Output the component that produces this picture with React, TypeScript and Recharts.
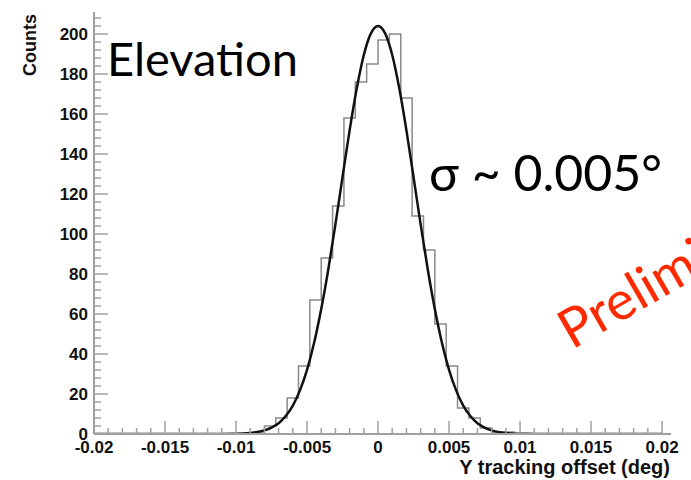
import React from "react";
import { LineChart, Line, XAxis, YAxis } from "recharts";

// histogram: 50 bins of 0.0008 deg starting at -0.02
const binStart = -0.02;
const binWidth = 0.0008;
const histCounts = [
  0, 0, 0, 0, 0, 0, 0, 0, 0, 0, 0, 0, 0, 0,
  1, 4, 8, 18, 34, 67, 88, 114, 158, 176, 185, 197, 200, 168, 109, 92, 55, 34, 13, 8, 3, 1, 1,
  0, 0, 0, 0, 0, 0, 0, 0, 0, 0, 0, 0, 0,
];

// gaussian fit curve
const fitX = [
  -0.02, -0.012, -0.011, -0.01, -0.009, -0.008, -0.0075, -0.007, -0.0065, -0.006, -0.0055, -0.005,
  -0.0045, -0.004, -0.0035, -0.003, -0.0025, -0.002, -0.0015, -0.001, -0.0005, 0, 0.0005, 0.001,
  0.0015, 0.002, 0.0025, 0.003, 0.0035, 0.004, 0.0045, 0.005, 0.0055, 0.006, 0.0065, 0.007,
  0.0075, 0.008, 0.009, 0.01, 0.011, 0.012, 0.02,
];
const fitY = [
  0, 0.02, 0.05, 0.1, 0.5, 1.8, 3.2, 5.4, 9.0, 14.2, 21.8, 32.1,
  45.6, 62.5, 82.4, 104.8, 128.5, 151.8, 172.7, 189.5, 200.3, 204, 200.3, 189.5,
  172.7, 151.8, 128.5, 104.8, 82.4, 62.5, 45.6, 32.1, 21.8, 14.2, 9.0, 5.4,
  3.2, 1.8, 0.5, 0.1, 0.05, 0.02, 0,
];

const xMajor = [-0.02, -0.015, -0.01, -0.005, 0, 0.005, 0.01, 0.015, 0.02];
const yMajor = [0, 20, 40, 60, 80, 100, 120, 140, 160, 180, 200];

const xTicks: number[] = [];
for (let i = -20; i <= 20; i++) xTicks.push(i / 1000);
const yTicks: number[] = [];
for (let v = 0; v <= 208; v += 4) yTicks.push(v);

const histData = histCounts.map((c, i) => ({ x: binStart + i * binWidth, y: c }));
histData.push({ x: binStart + histCounts.length * binWidth, y: histCounts[histCounts.length - 1] });
const fitData = fitX.map((x, i) => ({ x, y: fitY[i] }));

const axisFont = "'Liberation Sans', Arial, sans-serif";
const bigFont = "Lato, 'Open Sans', sans-serif";
const frame = "#a0a0a0";

const fmtX = (v: number) => (Math.abs(v) < 1e-9 ? "0" : String(+v.toFixed(3)));

const XTick = (props: any) => {
  const { x, y, payload } = props;
  const v = payload.value as number;
  const major = xMajor.some((m) => Math.abs(m - v) < 1e-9);
  return (
    <g>
      <line x1={x} x2={x} y1={y} y2={y - (major ? 13 : 6)} stroke={frame} strokeWidth={1.5} />
      {major && (
        <text x={x} y={y + 19} textAnchor="middle" fontFamily={axisFont} fontWeight="bold" fontSize={17} fill="#111">
          {fmtX(v)}
        </text>
      )}
    </g>
  );
};

const YTick = (props: any) => {
  const { x, y, payload } = props;
  const v = payload.value as number;
  const major = yMajor.includes(v);
  return (
    <g>
      <line x1={x} x2={x + (major ? 14 : 7)} y1={y} y2={y} stroke={frame} strokeWidth={1.5} />
      {major && (
        <text x={x - 6} y={y + 6} textAnchor="end" fontFamily={axisFont} fontWeight="bold" fontSize={17} fill="#111">
          {v}
        </text>
      )}
    </g>
  );
};

export default function App() {
  return (
    <div style={{ position: "fixed", left: 0, top: 0, width: 691, height: 480, overflow: "hidden", background: "#fff" }}>
      <LineChart width={691} height={480} margin={{ top: 12, right: 20, left: 0, bottom: 0 }}>
        <XAxis
          xAxisId="b"
          type="number"
          dataKey="x"
          domain={[-0.02, 0.02063]}
          allowDataOverflow
          ticks={xTicks}
          interval={0}
          tick={XTick}
          tickLine={false}
          tickSize={0}
          tickMargin={0}
          height={46}
          axisLine={{ stroke: frame, strokeWidth: 2 }}
        />
        <XAxis
          xAxisId="t"
          orientation="top"
          type="number"
          dataKey="x"
          domain={[-0.02, 0.02063]}
          tick={false}
          tickLine={false}
          height={0}
          axisLine={{ stroke: frame, strokeWidth: 2.5 }}
        />
        <YAxis
          yAxisId="l"
          type="number"
          domain={[0, 211]}
          allowDataOverflow
          ticks={yTicks}
          interval={0}
          tick={YTick}
          tickLine={false}
          tickSize={0}
          tickMargin={0}
          width={94}
          axisLine={{ stroke: frame, strokeWidth: 2 }}
        />
        <YAxis
          yAxisId="r"
          orientation="right"
          type="number"
          domain={[0, 211]}
          tick={false}
          tickLine={false}
          width={0}
          axisLine={{ stroke: frame, strokeWidth: 2.5 }}
        />
        <Line
          xAxisId="b"
          yAxisId="l"
          data={histData}
          dataKey="y"
          type="stepAfter"
          stroke="#8a8a8a"
          strokeWidth={1.5}
          dot={false}
          isAnimationActive={false}
        />
        <Line
          xAxisId="b"
          yAxisId="l"
          data={fitData}
          dataKey="y"
          type="monotone"
          stroke="#111"
          strokeWidth={2.5}
          dot={false}
          isAnimationActive={false}
        />
      </LineChart>
      <svg width={691} height={480} style={{ position: "absolute", left: 0, top: 0, pointerEvents: "none" }}>
        <text x={36} y={14} transform="rotate(-90 36 14)" textAnchor="end" fontFamily={axisFont} fontWeight="bold" fontSize={18} fill="#111">
          Counts
        </text>
        <text x={670} y={474} textAnchor="end" fontFamily={axisFont} fontWeight="bold" fontSize={20} fill="#111">
          Y tracking offset (deg)
        </text>
        <text x={107} y={76} fontFamily={bigFont} fontSize={47} fill="#000">
          Elevation
        </text>
        <text x={429} y={191} fontFamily={bigFont} fontSize={50} fill="#000">
          σ ~ 0.005°
        </text>
        <text x={572} y={350} transform="rotate(-30 572 350)" fontFamily={bigFont} fontSize={54} fill="#ff2a00">
          Preliminary
        </text>
      </svg>
    </div>
  );
}
